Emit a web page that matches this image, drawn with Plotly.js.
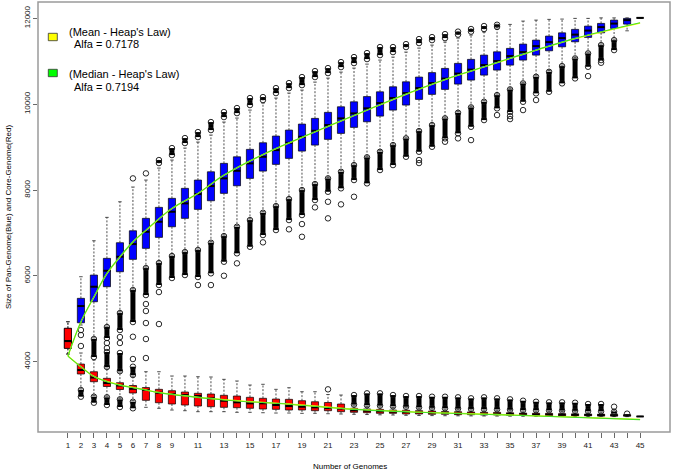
<!DOCTYPE html>
<html><head><meta charset="utf-8">
<script src="https://cdn.plot.ly/plotly-3.0.1.min.js"></script>
<style>html,body{margin:0;padding:0;background:#fff}#chart{width:675px;height:472px}</style>
</head><body><div id="chart"></div>
<script>
// ---------- DATA ----------
const genomes = [1,2,3,4,5,6,7,8,9,10,11,12,13,14,15,16,17,18,19,20,21,22,23,24,25,26,27,28,29,30,31,32,33,34,35,36,37,38,39,40,41,42,43,44,45];
const xTickLabels = genomes.map(g => (g <= 9 || g % 2 === 1) ? String(g) : '');
const yTickVals = [4000, 6000, 8000, 10000, 12000];
const yTickLabels = ['4000', '6000', '8000', '10000', '12000'];

// Pan-genome (blue) box statistics
const panLo  = [4179,4855,4555,4830,5160,5695,6205,6325,6485,6580,6625,6795,6950,7170,7325,7495,7650,7815,8025,8165,8295,8450,8605,8785,8915,9070,9230,9400,9540,9695,9825,9950,10080,10235,10370,10510,10660,10780,10910,11090,11210,11400,11515,11709,12010];
const panQ1  = [4312,4908,5397,5747,6096,6385,6641,6897,7144,7340,7549,7750,7922,8099,8271,8441,8597,8737,8907,9047,9180,9319,9459,9590,9722,9862,9979,10111,10228,10344,10468,10561,10677,10794,10910,11027,11143,11243,11336,11453,11555,11662,11765,11865,12010];
const panMed = [4482,5297,5747,6119,6446,6741,7028,7261,7494,7689,7906,8092,8271,8448,8621,8774,8930,9101,9240,9380,9513,9669,9785,9902,10025,10142,10258,10374,10491,10596,10712,10805,10910,11003,11120,11213,11353,11446,11539,11620,11714,11795,11877,11958,12010];
const panQ3  = [4778,5477,6019,6408,6772,7051,7340,7596,7806,8039,8232,8425,8621,8774,8947,9101,9257,9396,9536,9669,9809,9939,10055,10177,10288,10405,10521,10631,10735,10833,10950,11043,11143,11220,11299,11399,11492,11586,11662,11742,11818,11881,11958,11998,12010];
const panHi  = [4932,5980,6818,7363,7726,8069,8232,8511,8698,8977,9117,9280,9583,9676,9862,10025,10142,10258,10328,10514,10607,10747,10840,10933,11027,11096,11213,11306,11376,11446,11539,11609,11679,11749,11858,11935,11958,11975,11982,11998,11998,12010,12010,12010,12010];

// Pan-genome outliers: dense clusters (genome, low, high) and single points
const panClusterX    = [8,9,10,11,12,13,14,15,16,17,18,19,20,21,22,23,24,25,26,27,28,29,30,31,32,33,34,
                        3,4,5,6,7,8,9,10,11,12,13,14,15,16,17,18,19,20,21,22,23,24,25,26,27,28,29,30,31,32,33,34,35,36,37,38,39,40,41,42,43];
const panClusterLow  = [8628,8814,9094,9233,9396,9699,9792,9979,10095,10258,10374,10444,10631,10724,10863,10957,11050,11143,11213,11330,11423,11492,11539,11620,11690,11750,11800,
                        4109,4552,4738,4924,5553,5787,5950,6019,5973,6059,6329,6525,6678,6951,7067,7300,7417,7766,7959,8039,8232,8155,8465,8581,8774,8891,9007,9203,9320,9473,9629,9902,9816,10055,10251,10288,10484,10600,10871,11027,11260];
const panClusterHigh = [8698,8977,9210,9350,9583,9816,9909,10142,10165,10374,10491,10631,10770,10840,10980,11097,11190,11330,11330,11399,11516,11562,11632,11690,11750,11820,11850,
                        4529,4808,5134,5670,6182,6299,6462,6555,6602,6772,6927,7144,7300,7470,7626,7789,7999,8139,8271,8425,8581,8761,8891,9047,9203,9373,9513,9669,9799,9925,10055,10211,10344,10484,10638,10754,10887,11066,11183,11376,11492];
const panDotX = [6,7, 2,2,2,4,4,5,5,6,6,7,7,7,7,7,8,8,11,12,13,14,16,18,19,19,20,21,21,22,23,28,28,30,31,32,34,35,35,36,37,41,42];
const panDotY = [8271,8388, 4738,4622,4366,4436,4319,4575,4436,4582,4063,5344,5181,4901,4529,4086,5623,4878,5786,5786,6003,6292,6781,7084,7207,6911,7596,7726,7340,7666,7843,8698,8628,9124,9203,9163,9746,9722,9652,9862,10095,10654,10964];

// Core-genome (red) box statistics
const coreLo  = [4179,3366,3210,3196,3149,3093,2938,2915,2875,2859,2836,2836,2836,2822,2822,2812,2805,2805,2798,2798,2789,2782,2775,2770,2763,2759,2752,2748,2745,2742,2740,2738,2736,2734,2732,2730,2728,2727,2726,2725,2724,2723,2722,2721,2725];
const coreQ1  = [4312,3714,3534,3423,3353,3271,3101,3045,3015,2991,2968,2952,2938,2929,2915,2898,2891,2875,2875,2859,2859,2836,2822,2812,2798,2798,2782,2782,2775,2775,2766,2766,2759,2759,2752,2752,2745,2745,2740,2740,2740,2733,2733,2733,2725];
const coreMed = [4482,3807,3632,3504,3446,3369,3341,3278,3248,3224,3201,3148,3092,3055,3031,3031,2992,2968,2952,2938,2922,2910,2868,2857,2845,2836,2829,2822,2812,2805,2798,2793,2789,2787,2782,2778,2772,2770,2766,2763,2761,2758,2754,2750,2725];
const coreQ3  = [4778,3946,3767,3613,3511,3446,3399,3357,3325,3294,3264,3248,3218,3201,3171,3148,3131,3124,3092,3068,3050,3015,2915,2900,2890,2875,2870,2860,2852,2840,2836,2830,2822,2820,2812,2805,2800,2798,2790,2785,2782,2778,2770,2765,2725];
const coreHi  = [4932,4203,4040,3853,3760,3667,3767,3767,3667,3667,3651,3644,3590,3551,3457,3474,3357,3394,3301,3301,3236,3224,2975,2960,2950,2935,2930,2915,2905,2895,2890,2880,2875,2870,2860,2855,2850,2845,2840,2835,2830,2825,2780,2770,2725];

// Core-genome outliers
const coreClusterX    = [2,3,4,5,6, 4,5,6, 23,24,25,26,27,28,29,30,31,32,33,34,35,36,37,38,39,40,41,42,43];
const coreClusterLow  = [3185,3045,2992,2945,2915, 3877,3780,3690, 3000,2985,2975,2960,2950,2935,2925,2915,2905,2900,2895,2890,2880,2875,2870,2865,2860,2855,2850,2845,2795];
const coreClusterHigh = [3341,3185,3171,3124,3068, 4226,4203,3884, 3224,3264,3264,3224,3201,3201,3185,3185,3171,3148,3171,3148,3124,3092,3068,3055,3055,3045,3015,3015,2836];
const coreDotX = [21,43,44];
const coreDotY = [3357,2952,2790];

// Heap's law fits
const panFitX        = [1,2,3,4,5,6,7,9,11,13,16,20,24,27,30,33,36,40,45];
const panMedianFit   = [4130,4932,5514,6059,6446,6795,7067,7573,7922,8348,8830,9357,9862,10235,10577,10871,11166,11532,11895];
const panMeanFit     = [4135,4925,5505,6050,6440,6790,7060,7568,7918,8344,8826,9352,9858,10230,10572,10866,11160,11527,11890];
const coreFitX       = [1,2,3,4,5,6,7,8,13,18,23,28,34,45];
const coreMedianFit  = [4130,3880,3655,3535,3455,3395,3340,3280,3110,3010,2890,2822,2766,2652];
const coreMeanFit    = [4135,3885,3660,3540,3460,3400,3345,3285,3115,3015,2895,2827,2771,2657];

const legendItems = [
  {label: "(Mean - Heap's Law)",   alfa: 'Alfa = 0.7178', color: '#FFFF00'},
  {label: "(Median - Heap's Law)", alfa: 'Alfa = 0.7194', color: '#00FF00'}
];

// ---------- LAYOUT GEOMETRY / STYLE ----------
const W = 675, H = 472, M = {l: 38, r: 5, t: 2, b: 40};
const PW = W - M.l - M.r, PH = H - M.t - M.b;
const px2x = p => (p - M.l) / PW;
const px2y = p => 1 - (p - M.t) / PH;
const BOX_W = 0.55, CAP_W = 0.27;
const FONT = 'Liberation Sans, Arial, Helvetica, sans-serif';

function vseg(xs, a, b) {
  const X = [], Y = [];
  xs.forEach((x, i) => { if (a[i] !== b[i]) { X.push(x, x, null); Y.push(a[i], b[i], null); } });
  return {X, Y};
}
function hseg(xs, ys, half) {
  const X = [], Y = [];
  xs.forEach((x, i) => { X.push(x - half, x + half, null); Y.push(ys[i], ys[i], null); });
  return {X, Y};
}

function boxTraces(lo, q1, med, q3, hi, fill) {
  const up = vseg(genomes, q3, hi), dn = vseg(genomes, q1, lo);
  const capHi = hseg(genomes, hi, CAP_W / 2), capLo = hseg(genomes, lo, CAP_W / 2);
  const meds = hseg(genomes, med, BOX_W / 2);
  return {
    bar: {type: 'bar', x: genomes, base: q1, y: q3.map((v, i) => v - q1[i]), width: BOX_W,
          marker: {color: fill, line: {color: '#000', width: 0.7}}, hoverinfo: 'skip', showlegend: false},
    lines: [
      {type: 'scatter', mode: 'lines', x: up.X.concat(dn.X), y: up.Y.concat(dn.Y),
       line: {color: '#222', width: 0.8, dash: '2px,1.6px'}, hoverinfo: 'skip', showlegend: false},
      {type: 'scatter', mode: 'lines', x: capHi.X.concat(capLo.X), y: capHi.Y.concat(capLo.Y),
       line: {color: '#222', width: 0.8}, hoverinfo: 'skip', showlegend: false},
      {type: 'scatter', mode: 'lines', x: meds.X, y: meds.Y,
       line: {color: '#000', width: 2}, hoverinfo: 'skip', showlegend: false}
    ]
  };
}

function outlierTraces(cx, clo, chi, dx, dy) {
  const s = vseg(cx, clo, chi);
  return [
    {type: 'scatter', mode: 'lines', x: s.X, y: s.Y, line: {color: '#000', width: 5},
     hoverinfo: 'skip', showlegend: false},
    {type: 'scatter', mode: 'markers', x: cx.concat(cx, dx), y: clo.concat(chi, dy),
     marker: {symbol: 'circle-open', size: 5.5, color: '#111', line: {width: 0.9}},
     hoverinfo: 'skip', showlegend: false}
  ];
}

const pan = boxTraces(panLo, panQ1, panMed, panQ3, panHi, '#0000FF');
const core = boxTraces(coreLo, coreQ1, coreMed, coreQ3, coreHi, '#FF0000');

const traces = [pan.bar, core.bar]
  .concat(pan.lines)
  .concat(outlierTraces(panClusterX, panClusterLow, panClusterHigh, panDotX, panDotY))
  .concat(core.lines)
  .concat(outlierTraces(coreClusterX, coreClusterLow, coreClusterHigh, coreDotX, coreDotY))
  .concat([
    {type: 'scatter', mode: 'lines', x: panFitX, y: panMeanFit, line: {color: '#FFFF00', width: 1.3, shape: 'spline'}, hoverinfo: 'skip', showlegend: false},
    {type: 'scatter', mode: 'lines', x: coreFitX, y: coreMeanFit, line: {color: '#FFFF00', width: 1.3, shape: 'spline'}, hoverinfo: 'skip', showlegend: false},
    {type: 'scatter', mode: 'lines', x: panFitX, y: panMedianFit, line: {color: '#44E02A', width: 1.1, shape: 'spline'}, hoverinfo: 'skip', showlegend: false},
    {type: 'scatter', mode: 'lines', x: coreFitX, y: coreMedianFit, line: {color: '#44E02A', width: 1.1, shape: 'spline'}, hoverinfo: 'skip', showlegend: false}
  ]);

const annotations = [];
const shapes = [
  {type: 'rect', xref: 'paper', yref: 'paper', x0: 0, x1: 1, y0: 0, y1: 1,
   line: {color: '#9a9a9a', width: 1.5}, layer: 'above'}
];
legendItems.forEach((it, k) => {
  const top = 33.3 + k * 36;
  shapes.push({type: 'rect', xref: 'paper', yref: 'paper',
    x0: px2x(48.3), x1: px2x(57.3), y0: px2y(top), y1: px2y(top + 7.4),
    fillcolor: it.color, line: {color: '#333', width: 0.8}});
  annotations.push({xref: 'paper', yref: 'paper', x: px2x(66.5), y: px2y(31.8 + k * 42),
    xanchor: 'left', yanchor: 'middle', text: it.label, showarrow: false,
    font: {family: FONT, size: 11, color: '#000'}});
  annotations.push({xref: 'paper', yref: 'paper', x: px2x(71.5), y: px2y(44.2 + k * 43),
    xanchor: 'left', yanchor: 'middle', text: it.alfa, showarrow: false,
    font: {family: FONT, size: 11, color: '#000'}});
});
annotations.push({xref: 'paper', yref: 'paper', x: px2x(350), y: px2y(466),
  xanchor: 'center', yanchor: 'middle', text: 'Number of Genomes', showarrow: false,
  font: {family: FONT, size: 8, color: '#000'}});
annotations.push({xref: 'paper', yref: 'paper', x: px2x(8), y: px2y(217),
  xanchor: 'center', yanchor: 'middle', textangle: -90, text: 'Size of Pan-Genome(Blue) and Core-Genome(Red)',
  showarrow: false, font: {family: FONT, size: 8, color: '#000'}});

const layout = {
  width: W, height: H, margin: M, paper_bgcolor: '#fff', plot_bgcolor: '#fff',
  barmode: 'overlay', showlegend: false, font: {family: FONT, size: 8, color: '#000'},
  xaxis: {range: [-1.3, 47.3], tickvals: genomes, ticktext: xTickLabels, ticks: 'outside', ticklen: 5,
          tickcolor: '#444', tickwidth: 0.8, showgrid: false, zeroline: false, showline: false,
          tickfont: {family: FONT, size: 8, color: '#222'}, fixedrange: true},
  yaxis: {range: [2363, 12380], tickvals: yTickVals, ticktext: yTickLabels, tickangle: -90, ticks: 'outside',
          ticklen: 4, tickcolor: '#444', tickwidth: 0.8, showgrid: false, zeroline: false, showline: false,
          tickfont: {family: FONT, size: 8, color: '#222'}, fixedrange: true},
  shapes, annotations
};

Plotly.newPlot('chart', traces, layout, {displayModeBar: false, staticPlot: true});
</script></body></html>
